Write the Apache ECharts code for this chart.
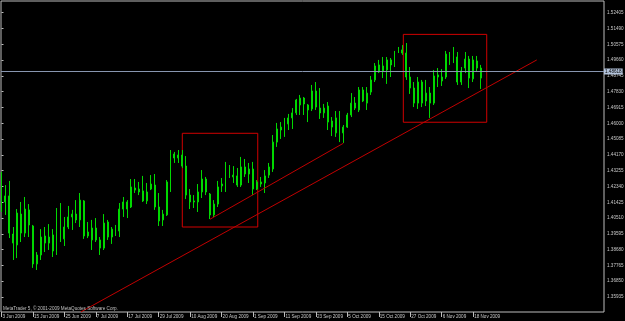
<!DOCTYPE html>
<html><head><meta charset="utf-8">
<script src="https://cdn.jsdelivr.net/npm/echarts@6/dist/echarts.min.js"></script>
<style>html,body{margin:0;padding:0;background:#000;}#c{width:625px;height:321px;}</style>
</head><body><div id="c"></div>
<script>
// EURUSD daily, 3 Jun 2009 .. 20 Nov 2009 (bar index = position)
const opens = [1.4312,1.4144,1.4179,1.3958,1.3895,1.4074,1.3964,1.4098,1.4005,1.3785,
1.3837,1.3947,1.3906,1.3953,1.3854,1.4074,1.3930,1.3999,1.4057,1.4074,
1.4040,1.4150,1.3947,1.3924,1.3993,1.3924,1.3877,1.4028,1.3941,1.3993,
1.3976,1.4103,1.4144,1.4115,1.4225,1.4219,1.4208,1.4150,1.4219,1.4242,
1.4115,1.4040,1.4069,1.4260,1.4422,1.4399,1.4416,1.4352,1.4184,1.4150,
1.4144,1.4202,1.4277,1.4190,1.4069,1.4132,1.4237,1.4248,1.4347,1.4289,
1.4295,1.4242,1.4347,1.4306,1.4335,1.4219,1.4248,1.4254,1.4300,1.4335,
1.4491,1.4561,1.4578,1.4596,1.4631,1.4660,1.4706,1.4746,1.4706,1.4683,
1.4787,1.4688,1.4660,1.4700,1.4613,1.4544,1.4636,1.4544,1.4578,1.4648,
1.4717,1.4677,1.4793,1.4717,1.4781,1.4851,1.4897,1.4932,1.4909,1.4967,
1.4938,1.5013,1.5007,1.5007,1.4868,1.4804,1.4717,1.4839,1.4729,1.4775,
1.4717,1.4868,1.4868,1.4868,1.5001,1.4984,1.4984,1.4839,1.4920,1.4972,
1.4857,1.4961,1.4920];
const closes = [1.4144,1.4179,1.3964,1.3906,1.4080,1.3964,1.4103,1.4011,1.3785,1.3837,
1.3941,1.3906,1.3941,1.3860,1.4074,1.3930,1.3999,1.4057,1.4074,1.4040,
1.4155,1.3947,1.3970,1.3993,1.3924,1.3877,1.4022,1.3941,1.3987,1.3970,
1.4103,1.4144,1.4103,1.4231,1.4213,1.4202,1.4150,1.4202,1.4248,1.4115,
1.4034,1.4074,1.4260,1.4422,1.4399,1.4416,1.4352,1.4184,1.4144,1.4144,
1.4202,1.4277,1.4202,1.4069,1.4132,1.4231,1.4248,1.4329,1.4295,1.4300,
1.4242,1.4347,1.4306,1.4335,1.4219,1.4260,1.4260,1.4295,1.4347,1.4491,
1.4567,1.4578,1.4567,1.4631,1.4660,1.4735,1.4746,1.4712,1.4677,1.4787,
1.4694,1.4660,1.4688,1.4607,1.4578,1.4631,1.4544,1.4578,1.4648,1.4717,
1.4688,1.4793,1.4729,1.4775,1.4851,1.4932,1.4938,1.4903,1.4967,1.4938,
1.5007,1.5025,1.5025,1.4868,1.4804,1.4717,1.4839,1.4717,1.4775,1.4717,
1.4874,1.4880,1.4845,1.5001,1.4984,1.4990,1.4839,1.4903,1.4972,1.4862,
1.4967,1.4920,1.48618];
const lows = [1.4086,1.4069,1.3935,1.3808,1.3819,1.3912,1.3941,1.3941,1.3762,1.3750,
1.3808,1.3854,1.3866,1.3825,1.3837,1.3912,1.3889,1.3987,1.3982,1.4022,
1.3999,1.3930,1.3935,1.3866,1.3912,1.3837,1.3866,1.3924,1.3901,1.3947,
1.3941,1.4057,1.4051,1.4109,1.4196,1.4184,1.4144,1.4132,1.4213,1.4098,
1.4005,1.4005,1.4063,1.4202,1.4370,1.4370,1.4341,1.4161,1.4103,1.4109,
1.4086,1.4167,1.4184,1.4045,1.4057,1.4115,1.4202,1.4202,1.4283,1.4254,
1.4231,1.4231,1.4289,1.4254,1.4184,1.4213,1.4231,1.4196,1.4283,1.4318,
1.4463,1.4509,1.4521,1.4561,1.4567,1.4648,1.4648,1.4648,1.4607,1.4671,
1.4677,1.4625,1.4631,1.4561,1.4526,1.4521,1.4491,1.4486,1.4573,1.4636,
1.4677,1.4665,1.4723,1.4677,1.4764,1.4839,1.4891,1.4862,1.4828,1.4868,
1.4926,1.5007,1.4996,1.4851,1.4770,1.4694,1.4683,1.4694,1.4700,1.4631,
1.4706,1.4810,1.4816,1.4857,1.4938,1.4949,1.4822,1.4822,1.4891,1.4804,
1.4839,1.4897,1.4799];
const highs = [1.4318,1.4242,1.4266,1.3999,1.4103,1.4144,1.4173,1.4132,1.4011,1.3854,
1.3987,1.3999,1.4016,1.3987,1.4109,1.4138,1.4057,1.4121,1.4098,1.4155,
1.4196,1.4155,1.4028,1.4040,1.4051,1.3941,1.4074,1.4040,1.3999,1.4011,
1.4138,1.4173,1.4155,1.4277,1.4277,1.4260,1.4295,1.4254,1.4300,1.4306,
1.4196,1.4098,1.4271,1.4445,1.4434,1.4445,1.4445,1.4410,1.4219,1.4184,
1.4248,1.4329,1.4289,1.4196,1.4155,1.4266,1.4283,1.4376,1.4358,1.4352,
1.4341,1.4405,1.4393,1.4370,1.4376,1.4271,1.4289,1.4329,1.4370,1.4532,
1.4602,1.4607,1.4631,1.4654,1.4688,1.4741,1.4764,1.4752,1.4712,1.4822,
1.4839,1.4804,1.4712,1.4723,1.4636,1.4671,1.4671,1.4590,1.4660,1.4775,
1.4752,1.4810,1.4810,1.4810,1.4874,1.4949,1.4967,1.4984,1.4984,1.4978,
1.5019,1.5042,1.5053,1.5065,1.4926,1.4839,1.4868,1.4851,1.4851,1.4810,
1.4909,1.4920,1.4914,1.5019,1.5013,1.5042,1.5013,1.4926,1.5013,1.4990,
1.4990,1.4990,1.4938];

// time-axis labels, one every 8 bars starting at bar 0
const dateLabels = ['3 Jun 2009','15 Jun 2009','25 Jun 2009','7 Jul 2009','17 Jul 2009','29 Jul 2009',
'10 Aug 2009','20 Aug 2009','1 Sep 2009','11 Sep 2009','23 Sep 2009','5 Oct 2009','15 Oct 2009',
'27 Oct 2009','6 Nov 2009','18 Nov 2009'];
const barsPerLabel = 8;
// price scale labels
const priceTicks = [1.35935,1.36850,1.37765,1.38680,1.39595,1.40510,1.41425,1.42340,1.43255,1.44170,
1.45085,1.46000,1.46915,1.47830,1.48745,1.49660,1.50575,1.51490,1.52405];
const lastPrice = 1.48618;
// drawn objects, [bar index, price]
const trendLong = [[20.2,1.3507],[136.2,1.4967]];
const trendShort = [[53.05,1.4044],[86.97,1.4484]];
const box1 = [[46.0,1.4542],[65.2,1.3999]];
const box2 = [[102.24,1.5115],[123.46,1.4606]];
const watermark = 'MetaTrader 5, \u00a9 2001-2009 MetaQuotes Software Corp.';

const FONT = 'Liberation Sans';
const FS = 4.6;
const TXT = '#c8c8c8';
const tickIdx = dateLabels.map((d, k) => k * barsPerLabel);
const candles = opens.map((o, i) => [i, o, closes[i], lows[i], highs[i]]);

const chart = echarts.init(document.getElementById('c'), null, {renderer: 'canvas'});
chart.setOption({
  animation: false,
  backgroundColor: '#000',
  textStyle: {fontFamily: FONT},
  grid: {left: 1, right: 21, top: 1, bottom: 9, show: true, backgroundColor: '#000',
         borderColor: '#bdbdbd', borderWidth: 1, outerBoundsMode: 'none', containLabel: false},
  xAxis: {
    type: 'value', min: -0.13, max: 153.3,
    axisLine: {show: false}, splitLine: {show: false},
    axisTick: {show: true, customValues: tickIdx, length: 5, lineStyle: {color: '#bdbdbd', width: 1}},
    axisLabel: {show: true, customValues: tickIdx, align: 'left', margin: 2, padding: [0,0,0,1],
      fontSize: FS, color: TXT, fontFamily: FONT,
      formatter: v => dateLabels[Math.round(v / barsPerLabel)] || ''}
  },
  yAxis: {
    type: 'value', position: 'right', min: 1.35066, max: 1.53084,
    axisLine: {show: false}, splitLine: {show: false},
    axisTick: {show: true, customValues: priceTicks, length: 2, lineStyle: {color: '#bdbdbd'}},
    axisLabel: {show: true, customValues: priceTicks, margin: 3, fontSize: FS, color: TXT, fontFamily: FONT,
      formatter: v => v.toFixed(5)}
  },
  graphic: [{type: 'text', left: 3, top: 306, z: 100, silent: true,
    style: {text: watermark, fill: '#c0c0c0', font: FS + 'px "' + FONT + '"'}}],
  series: [
    {
      type: 'candlestick', data: candles,
      dimensions: ['idx','open','close','lowest','highest'],
      encode: {x: 0, y: [1, 2, 3, 4]},
      barWidth: 1.4,
      itemStyle: {color: '#000000', color0: '#f4fff4', borderColor: '#00d800', borderColor0: '#00d800',
                  borderColorDoji: '#00d800', borderWidth: 1},
      markLine: {
        silent: true, symbol: ['none','none'], animation: false,
        lineStyle: {color: '#8896b0', width: 1, type: 'solid'},
        label: {show: true, position: 'end', distance: 0, formatter: () => lastPrice.toFixed(5),
          backgroundColor: '#b4c4dc', color: '#000', fontSize: FS, fontFamily: FONT, padding: [1,1,0,1]},
        data: [{yAxis: lastPrice}]
      },
      markArea: {
        silent: true,
        itemStyle: {color: 'rgba(0,0,0,0)', borderColor: '#d00000', borderWidth: 1},
        data: [
          [{coord: box1[0]}, {coord: box1[1]}],
          [{coord: box2[0]}, {coord: box2[1]}]
        ]
      }
    },
    {type: 'line', data: trendLong, symbol: 'none', silent: true, z: 3,
     lineStyle: {color: '#c00000', width: 1}},
    {type: 'line', data: trendShort, symbol: 'none', silent: true, z: 3,
     lineStyle: {color: '#c00000', width: 1}}
  ]
});
</script>
</body></html>
